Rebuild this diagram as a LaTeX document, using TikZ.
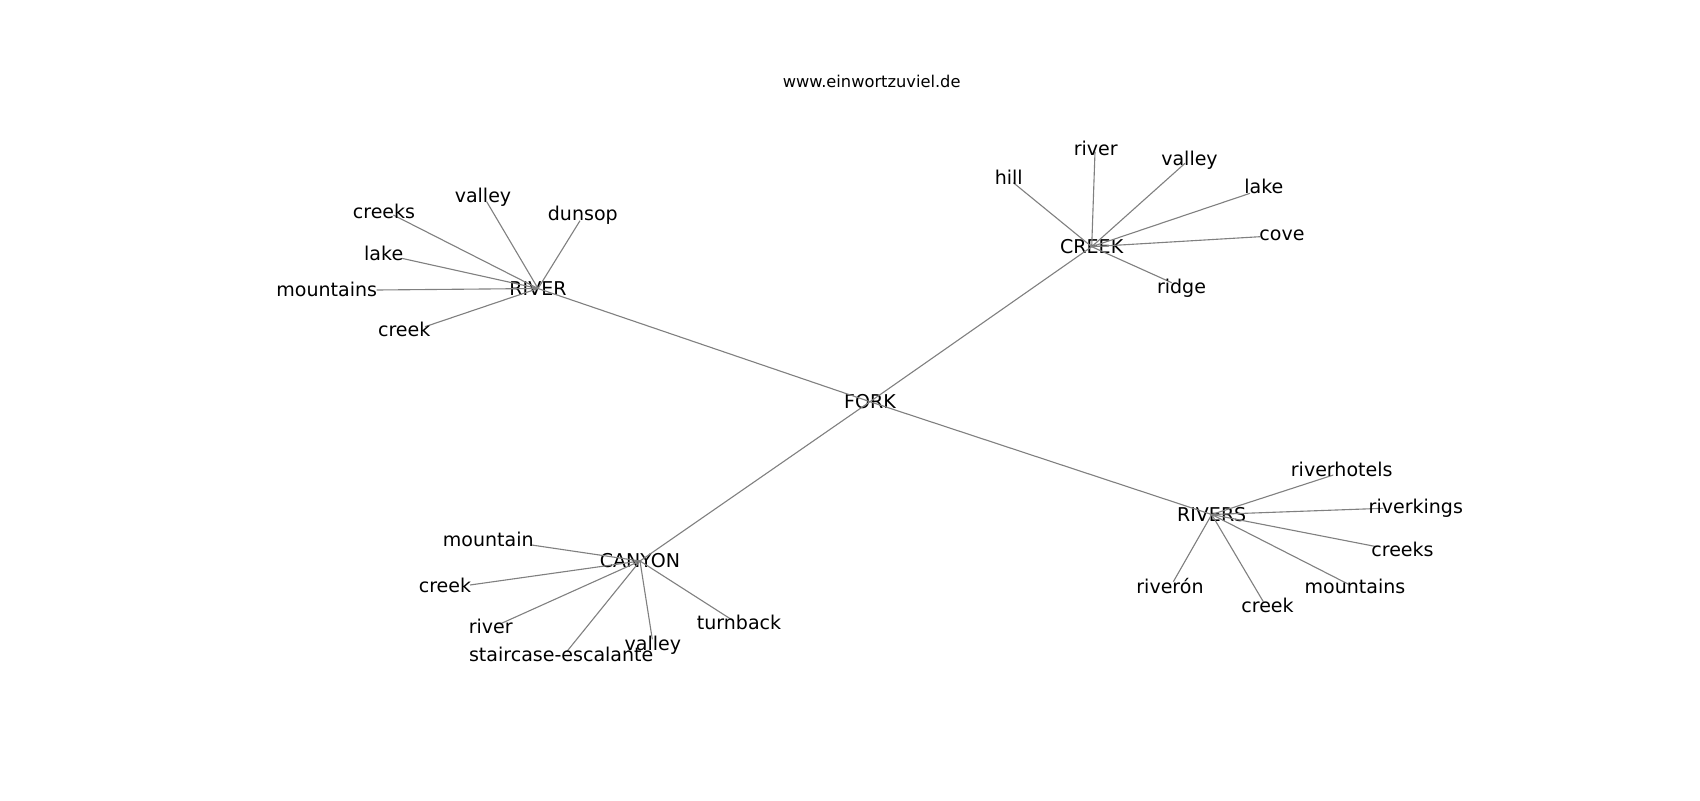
\documentclass[tikz,border=0pt]{standalone}
\usepackage{fontspec}
\setmainfont{DejaVu Sans}
\tikzset{
  link/.style={gray, line width=0.8pt},
  hub/.style={inner sep=0pt, font=\fontsize{13.7}{16}\selectfont},
  word/.style={inner sep=0pt, anchor=base, font=\fontsize{13.7}{16}\selectfont},
}
\begin{document}
\begin{tikzpicture}[x=0.72pt, y=-0.72pt]
\useasboundingbox (0,0) rectangle (1700,800);
\node[inner sep=0pt, anchor=base, font=\fontsize{11.7}{14}\selectfont] (title) at (871.7,87.3) {www.einwortzuviel.de};
% hubs
\node[hub] (fork) at (870,401.7) {FORK};
\node[hub] (river) at (538,288.5) {RIVER};
\node[hub] (creek) at (1091.7,246.7) {CREEK};
\node[hub] (canyon) at (640,561) {CANYON};
\node[hub] (rivers) at (1211.7,514.5) {RIVERS};
\draw[link] (fork.center) -- (river.center);
\draw[link] (fork.center) -- (creek.center);
\draw[link] (fork.center) -- (canyon.center);
\draw[link] (fork.center) -- (rivers.center);
% RIVER
\coordinate (river-creeks) at (393.3,215);
\coordinate (river-valley) at (486.7,201.7);
\coordinate (river-dunsop) at (580,220.7);
\coordinate (river-lake) at (401.7,258.3);
\coordinate (river-mountains) at (376.7,290);
\coordinate (river-creek) at (425,326.7);
\draw[link] (river.center) -- (river-creeks);
\draw[link] (river.center) -- (river-valley);
\draw[link] (river.center) -- (river-dunsop);
\draw[link] (river.center) -- (river-lake);
\draw[link] (river.center) -- (river-mountains);
\draw[link] (river.center) -- (river-creek);
\node[word] (river-creeks-lbl) at (384,218.3) {creeks};
\node[word] (river-valley-lbl) at (483,202.7) {valley};
\node[word] (river-dunsop-lbl) at (582.8,220.7) {dunsop};
\node[word] (river-lake-lbl) at (383.7,260) {lake};
\node[word] (river-mountains-lbl) at (326.7,296) {mountains};
\node[word] (river-creek-lbl) at (404.2,336) {creek};
% CREEK
\coordinate (creek-river) at (1095,151.7);
\coordinate (creek-hill) at (1013.3,182.7);
\coordinate (creek-valley) at (1185,163.3);
\coordinate (creek-lake) at (1250,193.3);
\coordinate (creek-cove) at (1260,236.7);
\coordinate (creek-ridge) at (1171.7,282.7);
\draw[link] (creek.center) -- (creek-river);
\draw[link] (creek.center) -- (creek-hill);
\draw[link] (creek.center) -- (creek-valley);
\draw[link] (creek.center) -- (creek-lake);
\draw[link] (creek.center) -- (creek-cove);
\draw[link] (creek.center) -- (creek-ridge);
\node[word] (creek-river-lbl) at (1095.7,155) {river};
\node[word] (creek-hill-lbl) at (1008.8,184) {hill};
\node[word] (creek-valley-lbl) at (1189.5,165) {valley};
\node[word] (creek-lake-lbl) at (1263.8,193.3) {lake};
\node[word] (creek-cove-lbl) at (1282,240.7) {cove};
\node[word] (creek-ridge-lbl) at (1181.5,293.3) {ridge};
% CANYON
\coordinate (canyon-mountain) at (531.7,545);
\coordinate (canyon-creek) at (470,585);
\coordinate (canyon-river) at (500,624);
\coordinate (canyon-staircase) at (566.7,651.7);
\coordinate (canyon-valley) at (652.3,639.3);
\coordinate (canyon-turnback) at (733.3,620.7);
\draw[link] (canyon.center) -- (canyon-mountain);
\draw[link] (canyon.center) -- (canyon-creek);
\draw[link] (canyon.center) -- (canyon-river);
\draw[link] (canyon.center) -- (canyon-staircase);
\draw[link] (canyon.center) -- (canyon-valley);
\draw[link] (canyon.center) -- (canyon-turnback);
\node[word] (canyon-mountain-lbl) at (488.3,546) {mountain};
\node[word] (canyon-creek-lbl) at (445,592.7) {creek};
\node[word] (canyon-river-lbl) at (490.8,633.3) {river};
\node[word] (canyon-staircase-lbl) at (561.2,661.7) {staircase-escalante};
\node[word] (canyon-valley-lbl) at (652.8,650) {valley};
\node[word] (canyon-turnback-lbl) at (739,629) {turnback};
% RIVERS
\coordinate (rivers-riverhotels) at (1333.3,475);
\coordinate (rivers-riverkings) at (1383.3,508.3);
\coordinate (rivers-creeks) at (1376.7,546.7);
\coordinate (rivers-mountains) at (1350,585);
\coordinate (rivers-creek) at (1263.3,601.7);
\coordinate (rivers-riveron) at (1173.3,581.7);
\draw[link] (rivers.center) -- (rivers-riverhotels);
\draw[link] (rivers.center) -- (rivers-riverkings);
\draw[link] (rivers.center) -- (rivers-creeks);
\draw[link] (rivers.center) -- (rivers-mountains);
\draw[link] (rivers.center) -- (rivers-creek);
\draw[link] (rivers.center) -- (rivers-riveron);
\node[word] (rivers-riverhotels-lbl) at (1341.7,476.7) {riverhotels};
\node[word] (rivers-riverkings-lbl) at (1415.8,513.3) {riverkings};
\node[word] (rivers-creeks-lbl) at (1402.5,556.7) {creeks};
\node[word] (rivers-mountains-lbl) at (1355,593.3) {mountains};
\node[word] (rivers-creek-lbl) at (1267.5,612.7) {creek};
\node[word] (rivers-riveron-lbl) at (1170,593.3) {riverón};
\end{tikzpicture}
\end{document}
